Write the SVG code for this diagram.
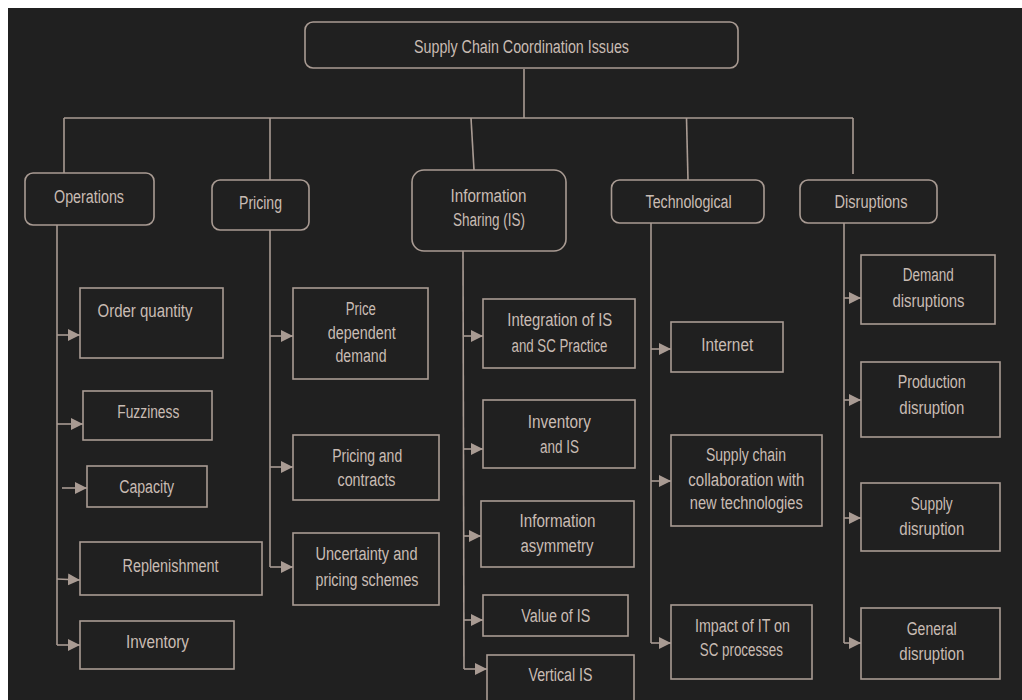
<svg xmlns="http://www.w3.org/2000/svg" width="1022" height="700" viewBox="0 0 1022 700">
  <defs>
    <style>
      .bg { fill: #202020; }
      .box { fill: none; stroke: #a99b93; stroke-width: 1.6; }
      .wire { fill: none; stroke: #a99b93; stroke-width: 1.6; }
      .arrow { fill: none; stroke: #a99b93; stroke-width: 1.6; marker-end: url(#head); }
      text { font-family: "Liberation Sans", "DejaVu Sans", sans-serif; font-size: 18px; fill: #c9bcb4; text-anchor: middle; }
    </style>
    <marker id="head" markerUnits="userSpaceOnUse" markerWidth="13" markerHeight="12" refX="12" refY="6" orient="auto">
      <path d="M0,0 L12,6 L0,12 Z" fill="#a99b93"/>
    </marker>
  </defs>

  <rect x="0" y="0" width="1022" height="700" fill="#ffffff"/>
  <rect class="bg" x="8" y="8" width="1014" height="692"/>

  <!-- connectors -->
  <g id="connectors">
    <line class="wire" x1="524" y1="69" x2="524" y2="118"/>
    <line class="wire" x1="64" y1="118" x2="853" y2="118"/>
    <line class="wire" x1="64" y1="118" x2="64" y2="173"/>
    <line class="wire" x1="270" y1="118" x2="270" y2="180"/>
    <line class="wire" x1="471" y1="118" x2="474" y2="170"/>
    <line class="wire" x1="686.5" y1="118" x2="688" y2="180"/>
    <line class="wire" x1="853" y1="118" x2="853" y2="174"/>

    <!-- Operations branch -->
    <line class="wire" x1="57" y1="225" x2="57" y2="645"/>
    <line class="arrow" x1="57" y1="335" x2="80" y2="335"/>
    <line class="arrow" x1="57" y1="424" x2="83" y2="424"/>
    <line class="arrow" x1="62" y1="488" x2="87" y2="488"/>
    <line class="arrow" x1="57" y1="579" x2="80" y2="580"/>
    <line class="arrow" x1="57" y1="645" x2="80" y2="645"/>

    <!-- Pricing branch -->
    <line class="wire" x1="270" y1="230" x2="270" y2="567"/>
    <line class="arrow" x1="270" y1="336" x2="293" y2="336"/>
    <line class="arrow" x1="270" y1="467" x2="293" y2="467"/>
    <line class="arrow" x1="270" y1="567" x2="293" y2="567"/>

    <!-- Information Sharing branch -->
    <line class="wire" x1="463" y1="251" x2="464" y2="669"/>
    <line class="arrow" x1="463" y1="336" x2="483" y2="336"/>
    <line class="arrow" x1="463" y1="449" x2="483" y2="449"/>
    <line class="arrow" x1="463" y1="536" x2="481" y2="536"/>
    <line class="arrow" x1="464" y1="620" x2="483" y2="620"/>
    <line class="arrow" x1="464" y1="669" x2="487" y2="669"/>

    <!-- Technological branch -->
    <line class="wire" x1="651" y1="223" x2="651" y2="643"/>
    <line class="arrow" x1="651" y1="349" x2="671" y2="349"/>
    <line class="arrow" x1="651" y1="481" x2="671" y2="481"/>
    <line class="arrow" x1="651" y1="643" x2="671" y2="643"/>

    <!-- Disruptions branch -->
    <line class="wire" x1="844" y1="223" x2="844" y2="643"/>
    <line class="arrow" x1="844" y1="298" x2="861" y2="298"/>
    <line class="arrow" x1="844" y1="400" x2="861" y2="400"/>
    <line class="arrow" x1="844" y1="518" x2="861" y2="518"/>
    <line class="arrow" x1="844" y1="643" x2="861" y2="643"/>
  </g>

  <!-- root -->
  <g id="root">
    <rect class="box" x="305" y="22" width="433" height="46" rx="8"/>
    <text x="521.5" y="53" textLength="215" lengthAdjust="spacingAndGlyphs">Supply Chain Coordination Issues</text>
  </g>

  <!-- categories -->
  <g id="operations">
    <rect class="box" x="25" y="173" width="129" height="52" rx="8"/>
    <text x="89" y="203" textLength="70" lengthAdjust="spacingAndGlyphs">Operations</text>
  </g>
  <g id="pricing">
    <rect class="box" x="212" y="180" width="97" height="50" rx="8"/>
    <text x="260.5" y="209" textLength="43" lengthAdjust="spacingAndGlyphs">Pricing</text>
  </g>
  <g id="information-sharing">
    <rect class="box" x="412" y="170" width="154" height="81" rx="12"/>
    <text x="488.5" y="202" textLength="76" lengthAdjust="spacingAndGlyphs">Information</text>
    <text x="489" y="226" textLength="72" lengthAdjust="spacingAndGlyphs">Sharing (IS)</text>
  </g>
  <g id="technological">
    <rect class="box" x="611.5" y="180" width="152.5" height="43" rx="8"/>
    <text x="688.6" y="208" textLength="86" lengthAdjust="spacingAndGlyphs">Technological</text>
  </g>
  <g id="disruptions">
    <rect class="box" x="800" y="180" width="137" height="43" rx="8"/>
    <text x="871" y="208" textLength="73" lengthAdjust="spacingAndGlyphs">Disruptions</text>
  </g>

  <!-- Operations items -->
  <g id="order-quantity">
    <rect class="box" x="80" y="288" width="143" height="70"/>
    <text x="145" y="317" textLength="95" lengthAdjust="spacingAndGlyphs">Order quantity</text>
  </g>
  <g id="fuzziness">
    <rect class="box" x="83" y="391" width="129" height="49"/>
    <text x="148.3" y="418" textLength="62" lengthAdjust="spacingAndGlyphs">Fuzziness</text>
  </g>
  <g id="capacity">
    <rect class="box" x="87" y="466" width="120" height="41"/>
    <text x="146.7" y="493" textLength="55" lengthAdjust="spacingAndGlyphs">Capacity</text>
  </g>
  <g id="replenishment">
    <rect class="box" x="80" y="542" width="182" height="53"/>
    <text x="170.5" y="572" textLength="96" lengthAdjust="spacingAndGlyphs">Replenishment</text>
  </g>
  <g id="inventory">
    <rect class="box" x="80" y="621" width="154" height="48"/>
    <text x="157.5" y="648" textLength="63" lengthAdjust="spacingAndGlyphs">Inventory</text>
  </g>

  <!-- Pricing items -->
  <g id="price-dependent-demand">
    <rect class="box" x="293" y="288" width="135" height="91"/>
    <text x="360.8" y="315" textLength="30" lengthAdjust="spacingAndGlyphs">Price</text>
    <text x="361.7" y="339" textLength="68" lengthAdjust="spacingAndGlyphs">dependent</text>
    <text x="361" y="362" textLength="51" lengthAdjust="spacingAndGlyphs">demand</text>
  </g>
  <g id="pricing-contracts">
    <rect class="box" x="293" y="435" width="146" height="65"/>
    <text x="367.2" y="462" textLength="70" lengthAdjust="spacingAndGlyphs">Pricing and</text>
    <text x="366.5" y="486" textLength="58" lengthAdjust="spacingAndGlyphs">contracts</text>
  </g>
  <g id="uncertainty-pricing">
    <rect class="box" x="293" y="533" width="146" height="72"/>
    <text x="366.5" y="560" textLength="102" lengthAdjust="spacingAndGlyphs">Uncertainty and</text>
    <text x="367" y="586" textLength="103" lengthAdjust="spacingAndGlyphs">pricing schemes</text>
  </g>

  <!-- Information Sharing items -->
  <g id="integration-is">
    <rect class="box" x="483" y="299" width="152" height="69"/>
    <text x="559.8" y="326" textLength="105" lengthAdjust="spacingAndGlyphs">Integration of IS</text>
    <text x="559.5" y="352" textLength="96" lengthAdjust="spacingAndGlyphs">and SC Practice</text>
  </g>
  <g id="inventory-is">
    <rect class="box" x="483" y="400" width="152" height="68"/>
    <text x="559.3" y="428" textLength="63" lengthAdjust="spacingAndGlyphs">Inventory</text>
    <text x="559.5" y="453" textLength="39" lengthAdjust="spacingAndGlyphs">and IS</text>
  </g>
  <g id="information-asymmetry">
    <rect class="box" x="481" y="501" width="153" height="66"/>
    <text x="557.5" y="527" textLength="76" lengthAdjust="spacingAndGlyphs">Information</text>
    <text x="557" y="552" textLength="73" lengthAdjust="spacingAndGlyphs">asymmetry</text>
  </g>
  <g id="value-is">
    <rect class="box" x="483" y="595" width="145" height="41"/>
    <text x="555.8" y="622" textLength="69" lengthAdjust="spacingAndGlyphs">Value of IS</text>
  </g>
  <g id="vertical-is">
    <rect class="box" x="487" y="655" width="147" height="52"/>
    <text x="560.5" y="681" textLength="64" lengthAdjust="spacingAndGlyphs">Vertical IS</text>
  </g>

  <!-- Technological items -->
  <g id="internet">
    <rect class="box" x="671" y="322" width="112" height="50"/>
    <text x="727.2" y="351" textLength="52" lengthAdjust="spacingAndGlyphs">Internet</text>
  </g>
  <g id="sc-collaboration">
    <rect class="box" x="671" y="435" width="151" height="91"/>
    <text x="746" y="461" textLength="80" lengthAdjust="spacingAndGlyphs">Supply chain</text>
    <text x="746.3" y="486" textLength="116" lengthAdjust="spacingAndGlyphs">collaboration with</text>
    <text x="746.3" y="509" textLength="113" lengthAdjust="spacingAndGlyphs">new technologies</text>
  </g>
  <g id="impact-it">
    <rect class="box" x="671" y="605" width="141" height="74"/>
    <text x="742.5" y="632" textLength="95" lengthAdjust="spacingAndGlyphs">Impact of IT on</text>
    <text x="741.3" y="656" textLength="83" lengthAdjust="spacingAndGlyphs">SC processes</text>
  </g>

  <!-- Disruptions items -->
  <g id="demand-disruptions">
    <rect class="box" x="861" y="255" width="134" height="69"/>
    <text x="928.3" y="281" textLength="51" lengthAdjust="spacingAndGlyphs">Demand</text>
    <text x="928.5" y="307" textLength="72" lengthAdjust="spacingAndGlyphs">disruptions</text>
  </g>
  <g id="production-disruption">
    <rect class="box" x="861" y="362" width="139" height="75"/>
    <text x="931.7" y="388" textLength="68" lengthAdjust="spacingAndGlyphs">Production</text>
    <text x="931.8" y="414" textLength="65" lengthAdjust="spacingAndGlyphs">disruption</text>
  </g>
  <g id="supply-disruption">
    <rect class="box" x="861" y="483" width="139" height="68"/>
    <text x="931.7" y="510" textLength="42" lengthAdjust="spacingAndGlyphs">Supply</text>
    <text x="931.8" y="535" textLength="65" lengthAdjust="spacingAndGlyphs">disruption</text>
  </g>
  <g id="general-disruption">
    <rect class="box" x="861" y="608" width="139" height="71"/>
    <text x="931.7" y="635" textLength="50" lengthAdjust="spacingAndGlyphs">General</text>
    <text x="931.8" y="660" textLength="65" lengthAdjust="spacingAndGlyphs">disruption</text>
  </g>
</svg>
